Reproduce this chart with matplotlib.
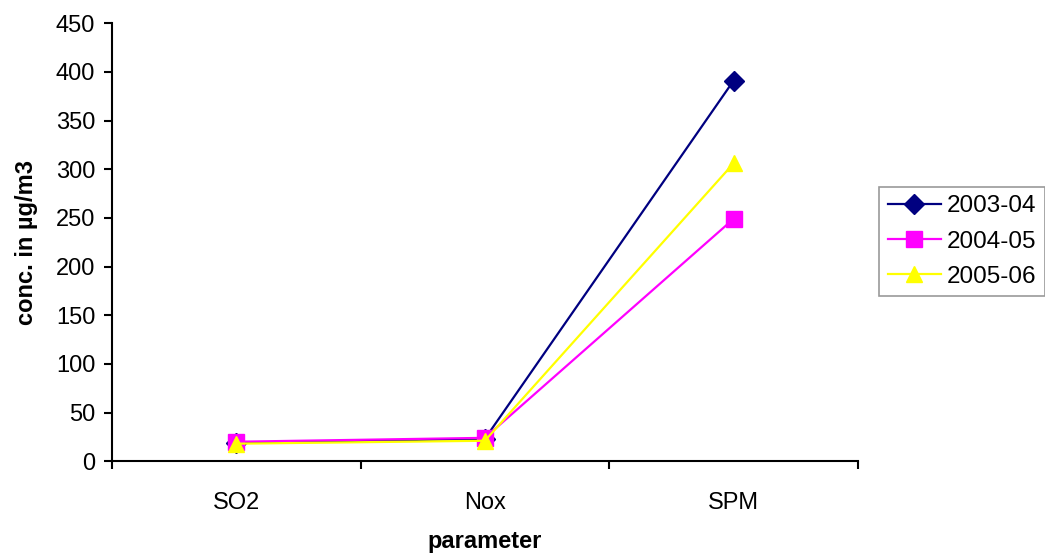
import numpy as np
import matplotlib.pyplot as plt

plt.rcParams['font.family'] = ['Liberation Sans', 'DejaVu Sans']

parameters = ['SO2', 'Nox', 'SPM']
years = ['2003-04', '2004-05', '2005-06']
conc_2003 = [19, 23, 391]
conc_2004 = [20, 24, 249]
conc_2005 = [18, 21, 306]

fig = plt.figure(figsize=(10.45, 5.53), dpi=100)
ax = fig.add_axes([0.107, 0.166, 0.714, 0.792])

x = np.arange(len(parameters))
ax.plot(x, conc_2003, color='#000080', marker='D', markersize=10, lw=1.6, label=years[0])
ax.plot(x, conc_2004, color='#FF00FF', marker='s', markersize=11, lw=1.6, label=years[1])
ax.plot(x, conc_2005, color='#FFFF00', marker='^', markersize=12, lw=1.6, label=years[2])

ax.set_xlim(-0.5, 2.5)
ax.set_ylim(0, 450)
ax.set_yticks(np.arange(0, 451, 50))
ax.set_xticks(x)
ax.set_xticklabels(parameters)
ax.set_xticks([-0.5, 0.5, 1.5, 2.5], minor=True)
ax.tick_params(axis='x', which='major', length=0, pad=22, labelsize=17)
ax.tick_params(axis='x', which='minor', length=6, width=1.5, direction='out')
ax.tick_params(axis='y', length=6, width=1.5, labelsize=17, pad=6)

for s in ['top', 'right']:
    ax.spines[s].set_visible(False)
for s in ['left', 'bottom']:
    ax.spines[s].set_linewidth(1.5)

ax.set_xlabel('parameter', fontsize=17, fontweight='bold', labelpad=12)
ax.set_ylabel('conc. in µg/m3', fontsize=17, fontweight='bold', labelpad=13)

leg = ax.legend(loc='center left', bbox_to_anchor=(879 / 1045, 1 - 241.5 / 553),
                bbox_transform=fig.transFigure, fontsize=17.5,
                frameon=True, fancybox=False, edgecolor='#808080',
                handlelength=2.2, handletextpad=0.25, borderpad=0.35,
                labelspacing=0.55, borderaxespad=0)
leg.get_frame().set_linewidth(1.2)

fig.savefig('out.png', dpi=100)
